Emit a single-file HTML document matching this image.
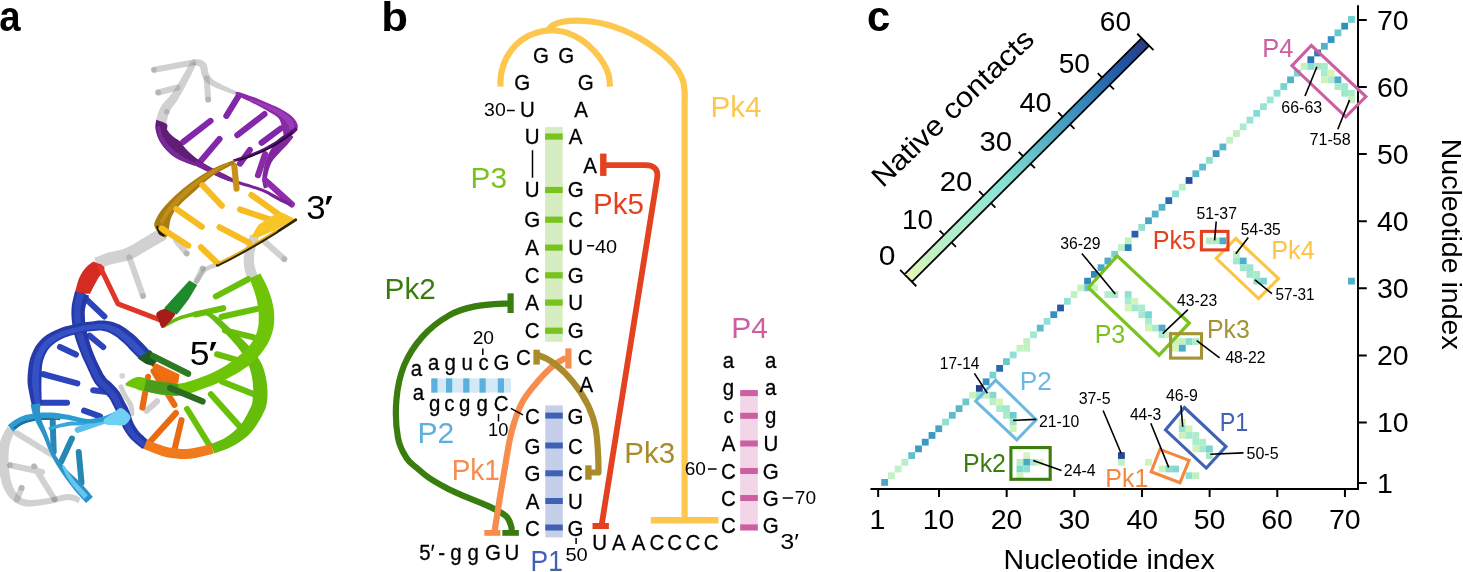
<!DOCTYPE html>
<html><head><meta charset="utf-8"><title>Figure</title>
<style>
html,body{margin:0;padding:0;background:#fff;}
svg{display:block;font-family:"Liberation Sans",sans-serif;}
</style></head><body>
<svg width="1463" height="572" viewBox="0 0 1463 572">
<defs><linearGradient id="cb" x1="0" y1="0" x2="1" y2="0"><stop offset="0.0000" stop-color="#e6f6b4"/><stop offset="0.0833" stop-color="#c6f2c0"/><stop offset="0.1667" stop-color="#b4eec8"/><stop offset="0.2500" stop-color="#a8ecd0"/><stop offset="0.3333" stop-color="#96e6d2"/><stop offset="0.4167" stop-color="#84dfd2"/><stop offset="0.5000" stop-color="#6cc8cc"/><stop offset="0.5833" stop-color="#55b0c4"/><stop offset="0.6667" stop-color="#449ac0"/><stop offset="0.7500" stop-color="#3384b8"/><stop offset="0.8333" stop-color="#2868ac"/><stop offset="0.9167" stop-color="#2050a0"/><stop offset="1.0000" stop-color="#2c3c84"/></linearGradient></defs>
<rect width="1463" height="572" fill="#fff"/>
<text transform="translate(-0.65 31.00) scale(0.9016 1)" font-size="42.5" fill="#000" font-weight="bold">a</text>
<text transform="translate(381.36 31.10) scale(1.0674 1)" font-size="41" fill="#000" font-weight="bold">b</text>
<text transform="translate(867.03 31.00) scale(0.9848 1)" font-size="42.5" fill="#000" font-weight="bold">c</text>
<g id="panel-a">
<g opacity="0.40"><path d="M166.4 123.2L166.8 121.4L167.3 119.0L168.0 116.3L168.7 113.7L169.6 111.5L170.8 109.4L172.4 107.1L174.4 104.5L176.6 101.6L178.7 98.3L180.8 94.6L183.0 90.6L185.1 86.6L187.1 82.6L189.0 79.0L190.8 75.5L192.5 72.0L194.1 68.7L195.4 66.0L196.3 64.1L190.5 61.1L189.5 63.1L188.1 65.8L186.5 68.9L184.7 72.3L182.8 75.6L180.8 79.1L178.5 82.9L176.2 86.7L173.8 90.3L171.7 93.5L169.6 96.2L167.3 98.7L165.1 101.1L162.8 103.8L160.8 106.7L159.2 110.0L158.0 113.3L157.1 116.4L156.5 118.8L156.0 120.4Z" fill="#8c8c8c" /></g>
<g opacity="0.40"><path d="M192.1 65.0L193.6 65.3L195.7 65.6L197.8 66.0L199.4 66.6L200.0 67.0L200.2 67.4L200.5 68.9L200.8 71.1L201.3 73.8L202.3 76.5L203.6 78.6L204.8 80.4L206.6 82.4L208.9 84.2L212.0 86.1L216.5 88.1L222.1 90.3L228.0 92.4L233.2 94.2L236.8 95.5L238.2 92.1L234.7 90.5L229.7 88.3L224.1 85.7L218.8 83.1L215.0 80.9L212.7 79.2L211.2 77.8L210.3 76.5L209.5 75.0L208.7 73.5L208.1 72.0L207.8 70.0L207.5 67.6L206.8 64.8L205.0 62.0L202.1 60.3L199.2 59.6L196.5 59.3L194.3 59.2L192.9 59.0Z" fill="#8c8c8c" /></g>
<g opacity="0.40"><path d="M154.1 69.8L193.4 62.5M158.2 92.5L177.5 87.5M208.2 99.5L206.6 78.4" fill="none" stroke="#8c8c8c" stroke-width="6.1" stroke-linecap="round" /></g>
<g opacity="0.40"><path d="M160.2 227.9L157.9 229.3L154.7 231.3L150.9 233.6L147.0 236.0L143.2 238.2L139.6 240.4L135.9 242.7L132.4 244.8L129.0 246.6L125.9 248.1L122.7 249.2L119.4 250.1L115.8 250.9L112.0 251.7L108.3 252.6L104.8 253.8L101.5 255.1L98.5 256.2L96.0 257.2L94.3 257.9L98.7 269.1L100.5 268.4L102.9 267.4L105.8 266.2L108.8 265.1L111.7 264.2L114.7 263.4L118.1 262.8L122.0 262.1L126.2 261.1L130.5 259.7L134.7 257.8L138.7 255.6L142.4 253.3L146.1 251.1L149.6 249.0L153.3 246.8L157.4 244.5L161.2 242.3L164.5 240.4L166.8 239.1Z" fill="#8c8c8c" /></g>
<g opacity="0.40"><path d="M250.2 234.6L249.4 236.8L248.2 240.0L246.8 243.7L245.5 247.7L244.6 251.4L244.1 254.7L243.8 257.9L243.7 261.0L243.9 263.9L244.1 266.7L244.6 269.7L245.4 272.7L246.2 275.3L246.8 277.3L247.3 278.8L257.7 275.2L257.2 273.7L256.4 271.8L255.6 269.6L254.9 267.3L254.5 265.3L254.2 263.1L254.1 260.7L254.0 258.3L254.1 255.8L254.4 253.2L255.0 250.2L256.0 246.6L257.1 243.0L258.1 239.7L258.8 237.4Z" fill="#8c8c8c" /></g>
<g opacity="0.40"><path d="M176.4 240.9L186.6 253.4M129.3 257.3L143 295.9M263.9 240.9L284.3 259.1M202.7 268.6L196.4 281.1" fill="none" stroke="#8c8c8c" stroke-width="6.1" stroke-linecap="round" /></g>
<g opacity="0.40"><path d="M219.1 264.1C216.8 265.0 209.3 266.7 205.5 269.5C201.7 272.3 197.9 279.2 196.4 281.1" fill="none" stroke="#8c8c8c" stroke-width="4.5" stroke-linecap="round" stroke-linejoin="round" /></g>
<g opacity="0.40"><path d="M7.4 426.8L6.4 428.6L4.8 431.1L3.0 434.4L1.2 438.3L-0.1 442.5L-0.9 447.0L-1.4 451.8L-1.6 456.8L-1.5 461.9L-1.2 466.8L-0.6 471.8L0.3 476.8L1.5 481.9L3.0 486.7L5.1 491.1L7.5 495.0L10.4 498.4L13.7 501.4L17.4 503.8L21.6 505.5L26.3 506.4L31.2 506.4L36.3 505.9L41.2 505.2L45.9 504.6L50.8 503.7L55.8 502.5L60.6 501.3L64.9 500.4L68.3 500.0L70.9 500.2L73.1 500.8L75.1 501.7L76.8 502.6L78.3 503.2L80.7 497.8L79.5 497.2L77.6 496.2L75.1 495.2L71.9 494.3L68.1 494.0L63.9 494.5L59.3 495.6L54.4 496.8L49.6 497.9L45.1 498.6L40.4 499.2L35.6 499.7L31.1 499.9L27.0 499.7L23.8 498.9L21.1 497.4L18.7 495.5L16.6 493.0L14.7 490.2L13.1 487.1L11.8 483.6L10.7 479.5L9.8 475.1L9.2 470.4L8.8 466.0L8.5 461.5L8.5 457.0L8.7 452.5L9.1 448.3L9.7 444.7L10.5 441.6L11.7 438.5L13.1 435.6L14.4 433.0L15.4 431.0Z" fill="#8c8c8c" /></g>
<g opacity="0.40"><path d="M10.2 465.2L42 472M34.1 466.4L54.5 499.3M21.6 488L17 499.3M17 433.4L52.3 455" fill="none" stroke="#8c8c8c" stroke-width="6.1" stroke-linecap="round" /></g>
<g opacity="0.40"><path d="M121.0 386.8C121.6 388.2 122.9 391.9 124.6 395.0C126.2 398.1 129.7 402.4 130.9 405.5C132.1 408.6 131.7 412.5 131.9 413.9" fill="none" stroke="#8c8c8c" stroke-width="5" stroke-linecap="round" stroke-linejoin="round" /><path d="M157.1 401.3L146.6 410.7" fill="none" stroke="#8c8c8c" stroke-width="6.1" stroke-linecap="round" /></g>
<g fill="#707070" opacity="0.28"><circle cx="154.1" cy="69.8" r="2.9"/><circle cx="158.2" cy="92.5" r="2.9"/><circle cx="208.2" cy="99.5" r="2.9"/><circle cx="186.6" cy="253.4" r="2.9"/><circle cx="143" cy="295.9" r="2.9"/><circle cx="284.3" cy="259.1" r="2.9"/><circle cx="10.2" cy="465.2" r="2.9"/><circle cx="34.1" cy="466.4" r="2.9"/><circle cx="21.6" cy="488" r="2.9"/><circle cx="54.5" cy="499.3" r="2.9"/><circle cx="166.8" cy="111.8" r="2.9"/><circle cx="202.7" cy="268.6" r="2.9"/><circle cx="122.2" cy="375.8" r="2.9"/></g>
<path d="M238.2 96.6L226.4 115.9M210.5 120.9L183.2 142M219.5 139.1L199.5 162.5M264.5 114.1L237.3 135.2M280.9 128.4L261.6 142.7M249.8 150L240 163.6" fill="none" stroke="#8226aa" stroke-width="6.1" stroke-linecap="round" />
<path d="M265 154.2L258 175.2" fill="none" stroke="#8a2aa6" stroke-width="6.1" stroke-linecap="round" />
<path d="M288.6 131.9L287.5 132.6L285.8 133.7L283.9 134.9L281.8 136.4L279.9 138.0L278.3 139.6L276.6 141.4L275.0 143.4L273.4 145.5L271.9 147.8L270.5 150.1L269.2 152.5L267.9 155.1L266.8 157.9L265.7 160.9L264.8 164.1L263.9 167.6L263.2 171.2L262.6 174.6L262.3 177.7L262.3 180.5L262.7 183.1L263.1 185.4L263.6 187.1L263.8 188.4L267.8 187.6L267.5 186.3L267.2 184.6L266.9 182.5L266.7 180.4L266.9 178.1L267.4 175.4L268.1 172.3L269.0 169.0L270.1 165.8L271.3 163.1L272.6 160.8L274.1 158.8L275.7 156.9L277.4 155.0L279.1 153.2L280.7 151.5L282.3 149.8L283.9 148.2L285.5 146.6L287.1 145.0L288.5 143.3L289.9 141.5L291.3 139.7L292.5 138.2L293.4 137.1Z" fill="#8327a0" />
<path d="M265.3 180.3L291.8 204.4" fill="none" stroke="#8e2cab" stroke-width="6.2" stroke-linecap="round" />
<path d="M156.2 119.7C157.9 120.4 164.8 122.2 166.7 123.9C168.6 125.7 166.3 128.1 167.4 130.2C168.5 132.3 170.9 134.6 173.0 136.5C175.1 138.4 177.9 139.4 180.0 141.4C182.1 143.4 183.5 146.1 185.6 148.4C187.7 150.7 190.0 153.1 192.6 155.3C195.2 157.5 197.9 159.6 200.9 161.6C203.9 163.6 207.0 165.2 210.7 167.2C214.4 169.2 219.3 171.5 223.3 173.5C227.3 175.5 232.6 178.2 234.5 179.1L228.9 181.2C227.5 180.6 224.0 179.3 220.5 177.7C217.0 176.1 211.6 173.3 207.9 171.4C204.2 169.5 201.6 167.9 198.1 166.5C194.6 165.1 190.7 164.4 187.0 163.0C183.3 161.6 179.3 160.3 175.8 158.1C172.3 155.9 168.8 152.8 166.0 149.8C163.2 146.8 160.8 143.5 159.0 140.0C157.2 136.5 156.0 132.2 155.5 128.8C155.0 125.4 156.1 121.2 156.2 119.7Z" fill="#5f1d76" />
<path d="M157.0 126.2L157.2 127.9L157.3 130.2L157.6 133.1L158.1 136.1L158.9 138.9L160.1 141.5L161.6 143.9L163.3 146.3L165.2 148.6L167.2 150.8L169.5 152.8L172.0 154.7L174.6 156.5L177.3 158.2L180.0 159.7L183.0 161.3L186.4 162.7L189.7 164.0L192.4 165.1L194.4 165.9L195.6 163.1L193.7 162.2L191.0 161.0L187.9 159.5L184.7 157.9L182.0 156.3L179.6 154.6L177.2 152.8L174.9 151.0L172.7 149.1L170.8 147.2L168.9 145.3L167.2 143.3L165.6 141.2L164.2 139.1L163.1 137.1L162.1 134.9L161.4 132.3L160.8 129.7L160.3 127.4L160.0 125.8Z" fill="#7a2a98" />
<path d="M193.8 165.1L195.7 166.0L198.4 167.3L201.6 168.8L204.8 170.4L207.9 171.8L210.7 173.2L213.5 174.5L216.4 175.9L219.3 177.2L222.2 178.4L225.0 179.6L227.9 180.7L230.8 181.7L233.6 182.7L236.5 183.7L239.3 184.6L242.2 185.4L245.0 186.2L247.8 187.0L250.6 187.8L253.3 188.7L256.1 189.6L258.9 190.5L261.7 191.5L264.4 192.7L267.1 194.1L269.9 195.7L272.7 197.4L275.5 199.0L278.2 200.5L280.9 202.0L283.8 203.3L286.4 204.6L288.7 205.6L290.3 206.4L291.7 203.2L290.1 202.5L287.9 201.4L285.3 200.1L282.5 198.8L279.8 197.5L277.2 196.0L274.4 194.5L271.5 192.9L268.5 191.3L265.6 189.9L262.7 188.7L259.9 187.7L257.1 186.8L254.3 185.9L251.4 185.0L248.6 184.1L245.8 183.3L243.0 182.5L240.3 181.6L237.5 180.7L234.8 179.6L232.0 178.5L229.3 177.3L226.6 176.1L223.8 174.8L221.1 173.4L218.4 171.9L215.7 170.4L212.9 168.9L210.1 167.4L207.1 165.8L203.9 164.1L200.8 162.5L198.1 161.1L196.2 160.1Z" fill="#7a2296" />
<path d="M237.7 92.0C241.1 92.6 251.8 96.4 258.2 98.9C264.6 101.4 271.1 104.2 276.4 106.8C281.7 109.4 286.6 112.1 290.0 114.8C293.4 117.5 295.6 120.4 296.8 122.7C298.1 125.0 297.9 126.7 297.5 128.4C297.1 130.1 296.5 131.3 294.5 133.0C292.5 134.7 287.6 139.5 285.5 138.6C283.4 137.7 283.1 130.7 282.0 127.3C280.9 123.9 280.9 120.8 278.6 118.2C276.3 115.6 272.6 113.9 268.4 111.4C264.2 108.9 258.7 106.1 253.6 103.4C248.5 100.8 240.3 97.4 237.7 95.5C235.0 93.6 234.3 91.4 237.7 92.0Z" fill="#8a2aa8" />
<path d="M249.6 100.4L252.1 101.5L255.6 103.1L259.7 104.9L263.7 106.8L267.3 108.6L270.3 110.2L273.2 111.8L276.0 113.4L278.4 115.0L280.6 116.6L282.5 118.1L284.1 119.6L285.5 121.1L286.6 122.4L287.4 123.6L288.0 124.5L288.5 125.6L288.9 126.9L289.2 128.2L289.5 129.2L293.5 128.8L293.6 127.9L293.7 126.5L293.8 124.7L293.5 122.6L292.6 120.4L291.2 118.6L289.6 117.0L287.8 115.4L285.7 113.9L283.4 112.4L280.9 111.0L278.1 109.6L275.1 108.2L272.0 106.8L268.7 105.4L265.0 103.9L260.8 102.3L256.6 100.8L252.9 99.5L250.4 98.6Z" fill="#9a3cb8" />
<path d="M295.9 127.3L294.2 128.5L291.9 130.1L289.2 131.9L286.3 133.9L283.5 135.8L280.8 137.6L278.1 139.5L275.2 141.4L272.3 143.3L269.2 145.1L265.8 146.9L262.2 148.7L258.5 150.4L254.8 152.0L251.1 153.5L247.2 154.9L243.0 156.3L238.9 157.6L235.4 158.7L232.9 159.5L233.7 162.1L236.2 161.4L239.8 160.4L243.9 159.2L248.2 157.9L252.3 156.5L256.0 155.0L259.9 153.4L263.7 151.8L267.4 150.0L270.8 148.3L274.1 146.5L277.3 144.7L280.3 142.9L283.2 141.1L285.9 139.2L288.7 137.2L291.4 135.0L294.0 132.8L296.2 131.0L297.7 129.7Z" fill="#55126e" />
<path d="M293.0 132.6C291.6 133.6 288.5 136.1 284.7 138.6C280.9 141.1 275.5 144.9 270.0 147.8C264.5 150.7 256.7 154.1 251.7 156.1C246.7 158.1 241.9 159.3 240.0 160.0" fill="none" stroke="#1a0322" stroke-width="1.2" stroke-linecap="round" stroke-linejoin="round" />
<path d="M234.3 165.9L236.6 188.6" fill="none" stroke="#c8921a" stroke-width="6.1" stroke-linecap="round" />
<path d="M234.5 160.0C231.6 161.1 223.2 163.8 217.3 166.6C211.4 169.4 205.6 172.5 199.1 176.8C192.6 181.1 184.7 187.2 178.6 192.5C172.5 197.8 166.7 203.6 162.7 208.6C158.7 213.6 155.8 219.1 154.6 222.5C153.4 225.9 155.4 227.9 155.6 229.0L155.6 229.0C157.0 230.3 161.8 236.1 163.9 237.0C166.0 237.9 166.8 237.6 168.0 234.5C169.2 231.4 169.1 223.3 170.9 218.6C172.7 213.9 174.7 210.8 178.6 206.3C182.5 201.8 188.8 196.6 194.5 191.5C200.2 186.4 206.0 180.4 212.7 175.8C219.4 171.2 230.9 165.8 234.5 163.8Z" fill="#a87c10" />
<path d="M227.5 162.6L224.5 164.2L220.1 166.3L215.0 168.9L209.8 171.7L205.0 174.5L200.7 177.4L196.4 180.5L192.3 183.7L188.3 187.0L184.5 190.3L180.8 193.7L177.3 197.3L174.0 200.8L171.0 204.3L168.2 207.6L165.8 211.0L163.7 214.4L161.9 217.6L160.5 220.2L159.5 222.1L162.5 223.9L163.7 222.1L165.3 219.5L167.2 216.6L169.4 213.5L171.8 210.4L174.4 207.3L177.4 203.9L180.6 200.5L184.0 197.0L187.5 193.7L191.1 190.3L195.0 187.0L198.9 183.7L202.9 180.5L207.0 177.5L211.5 174.4L216.4 171.4L221.3 168.5L225.5 166.1L228.5 164.4Z" fill="#bf8e18" />
<path d="M156.1 226.4L156.4 227.4L156.8 228.9L157.3 230.7L158.0 232.4L158.8 233.9L159.9 235.0L161.2 235.8L162.4 236.3L163.4 236.6L164.0 236.9L165.0 235.1L164.4 234.7L163.5 234.1L162.6 233.5L161.8 232.8L161.2 232.1L160.6 231.1L159.8 229.6L159.0 228.1L158.4 226.6L157.9 225.6Z" fill="#2a1c00" />
<path d="M202.5 185.2L221.8 205.7M176.4 209.1L201.8 226.8M161.6 228.4L188.2 245.5M200.9 247.3L217.3 263M251.4 195L280.9 215.9M240 209.5L280.9 223.2M219.5 227.3L249.1 242.7" fill="none" stroke="#f7bc22" stroke-width="6.1" stroke-linecap="round" />
<polygon points="282,212.5 295.7,219.3 276.4,229.5 258.2,237.5 251.4,236.4 258.2,225 271.8,215.9" fill="#f9c426" />
<path d="M295.7 219.8C292.5 221.9 283.4 227.8 276.4 232.2C269.4 236.6 261.2 241.6 253.6 246.0C246.0 250.4 236.9 255.3 230.9 258.5C224.9 261.7 219.6 264.1 217.3 265.2" fill="none" stroke="#2e2200" stroke-width="2.8" stroke-linecap="round" stroke-linejoin="round" />
<path d="M276.4 230.6C272.6 232.9 261.2 239.9 253.6 244.3C246.0 248.7 236.9 253.7 230.9 256.9C224.9 260.1 219.6 262.5 217.3 263.6" fill="none" stroke="#e8ae1c" stroke-width="1.8" stroke-linecap="round" stroke-linejoin="round" />
<path d="M93.5 261.5C95.3 262.6 103.8 264.8 104.5 267.8C105.2 270.8 99.9 275.2 97.5 279.5C95.1 283.8 91.2 291.4 90.0 293.8L74.6 293.8C75.4 291.1 77.4 282.1 79.3 277.7C81.2 273.3 83.6 270.2 86.0 267.5C88.4 264.8 92.2 262.5 93.5 261.5Z" fill="#d42c20" />
<path d="M99.8 266.4L118 303.9L160 319.8" fill="none" stroke="#e2352a" stroke-width="5" stroke-linejoin="round" stroke-linecap="round"/>
<path d="M82.7 295.9L104.3 316.4M89.5 335.7L103.2 347M60 347L75.9 354.5M43.4 374.2L77.3 383.4M39.8 402.7L67 402.7M93.2 390.2L111.4 392.5M84.1 410.7L100 416.4" fill="none" stroke="#2c44bc" stroke-width="6.1" stroke-linecap="round" />
<path d="M75.0 291.6L74.5 293.6L73.7 296.6L72.8 300.3L71.9 304.6L71.5 309.0L71.4 313.3L71.6 317.7L72.0 322.3L72.6 326.8L73.4 331.3L74.6 335.8L76.0 340.4L77.5 344.8L79.0 348.9L80.5 352.5L81.7 355.8L83.0 358.7L84.2 361.3L85.5 364.0L86.8 366.7L88.2 369.9L89.8 373.3L91.4 376.9L93.2 380.3L95.0 383.4L97.1 386.0L99.1 388.2L101.0 389.8L102.5 391.1L103.8 392.3L105.1 393.6L106.4 395.0L107.5 396.2L108.5 397.3L109.4 398.4L110.2 399.7L110.9 401.0L111.7 402.6L112.5 404.3L113.5 406.1L114.4 408.0L115.3 409.7L116.2 411.5L117.1 413.3L118.0 415.1L118.8 417.2L119.8 419.7L120.8 422.4L121.9 425.2L123.1 427.9L124.5 430.3L125.8 432.5L127.2 434.6L128.7 436.5L130.3 438.4L132.1 440.3L134.1 442.1L135.9 443.7L137.6 445.1L139.0 446.2L140.1 447.1L141.2 447.9L142.1 448.4L142.6 448.8L143.1 449.0L148.9 441.0L148.5 440.6L148.0 440.2L147.4 439.7L146.8 439.1L145.8 438.2L144.5 437.0L143.0 435.6L141.4 434.2L139.9 432.7L138.7 431.2L137.5 429.7L136.4 428.1L135.4 426.5L134.4 424.7L133.5 422.9L132.6 420.8L131.8 418.4L130.9 415.8L130.0 413.1L129.0 410.5L128.0 408.1L127.0 406.1L126.0 404.2L125.0 402.4L124.1 400.7L123.3 399.0L122.4 397.2L121.5 395.4L120.5 393.5L119.2 391.6L117.8 389.8L116.4 388.1L115.1 386.7L113.7 385.3L112.2 383.7L110.5 382.1L108.9 380.7L107.4 379.4L106.2 378.2L105.0 376.6L103.5 374.4L102.0 371.5L100.3 368.3L98.7 365.0L97.2 361.9L95.9 359.1L94.8 356.6L93.8 354.1L92.8 351.5L91.7 348.5L90.5 344.8L89.3 340.8L88.0 336.7L87.0 332.6L86.2 328.7L85.6 324.9L85.1 320.9L84.9 317.0L84.8 313.3L84.9 310.0L85.4 307.0L86.3 303.8L87.3 300.6L88.3 297.8L89.0 295.6Z" fill="#2638a6" /><path d="M77.4 292.3L76.8 294.4L76.0 297.4L75.0 301.1L74.2 305.1L73.8 309.2L73.7 313.3L73.9 317.6L74.2 322.0L74.8 326.5L75.6 330.8L76.7 335.2L78.0 339.7L79.5 344.1L81.0 348.2L82.4 351.9L83.6 355.1L84.8 357.9L86.0 360.5L87.2 363.1L88.6 365.9L90.0 369.1L91.6 372.5L93.3 376.0L95.0 379.3L96.7 382.2L98.6 384.6L100.5 386.6L102.2 388.1L103.8 389.5L105.2 390.8L106.5 392.2L107.8 393.5L109.0 394.8L110.1 396.0L111.1 397.3L111.9 398.6L112.8 400.1L113.6 401.7L114.4 403.4L115.3 405.2L116.2 407.0L117.1 408.7L118.0 410.5L118.9 412.4L119.9 414.3L120.8 416.6L121.7 419.1L122.7 421.8L123.7 424.5L124.9 427.1L126.1 429.4L127.4 431.5L128.8 433.5L130.2 435.3L131.7 437.2L133.4 439.0L135.3 440.7L137.1 442.3L138.8 443.7L140.1 444.8L141.3 445.7L142.3 446.5L143.0 447.0L143.6 447.4L144.1 447.7L147.0 443.6L146.5 443.3L146.0 442.9L145.3 442.4L144.6 441.7L143.5 440.8L142.2 439.7L140.6 438.3L139.0 436.7L137.3 435.2L135.9 433.6L134.6 431.9L133.4 430.2L132.2 428.4L131.1 426.5L130.1 424.5L129.1 422.3L128.2 419.8L127.3 417.2L126.3 414.5L125.4 412.0L124.4 409.8L123.4 407.8L122.5 406.0L121.5 404.2L120.6 402.5L119.8 400.8L118.9 399.1L118.1 397.3L117.1 395.6L116.0 393.8L114.7 392.2L113.5 390.7L112.2 389.4L110.8 388.0L109.4 386.5L107.8 385.0L106.2 383.6L104.6 382.2L103.1 380.7L101.7 378.9L100.2 376.4L98.5 373.3L96.9 370.0L95.3 366.6L93.8 363.5L92.5 360.7L91.3 358.1L90.2 355.6L89.1 352.9L88.0 349.8L86.7 346.1L85.4 342.1L84.0 337.8L82.9 333.6L82.0 329.6L81.3 325.5L80.8 321.3L80.5 317.2L80.4 313.3L80.5 309.7L81.0 306.2L81.8 302.7L82.8 299.4L83.7 296.5L84.4 294.3Z" fill="#3049bc" />
<path d="M150.7 351.8L150.4 351.5L150.0 351.2L149.6 350.7L149.1 350.2L148.4 349.4L147.5 348.5L146.5 347.3L145.2 346.0L143.9 344.5L142.4 343.1L140.9 341.5L139.1 339.7L137.2 337.8L135.1 335.8L132.8 333.8L130.4 331.9L127.9 330.0L125.2 328.0L122.4 326.2L119.5 324.6L116.6 323.4L113.7 322.3L110.8 321.5L107.7 320.9L104.6 320.5L101.4 320.4L98.2 320.6L95.2 321.0L92.2 321.4L89.4 321.8L86.6 322.1L83.7 322.5L80.8 323.0L77.9 323.5L74.8 324.1L71.7 324.9L68.4 325.7L64.9 326.6L61.3 327.8L57.8 329.2L54.3 330.8L50.8 332.6L47.2 334.6L43.8 337.1L40.6 339.9L37.8 343.2L35.4 346.6L33.4 350.3L31.7 354.2L30.2 358.3L29.1 362.7L28.4 367.3L27.9 371.8L27.6 376.1L27.5 379.9L27.6 383.4L28.0 386.7L28.5 389.6L29.0 392.2L29.5 394.6L30.0 397.2L30.5 399.8L31.1 402.2L31.5 404.2L31.8 405.6L41.8 404.4L41.7 402.9L41.6 400.9L41.6 398.5L41.5 395.9L41.5 393.4L41.4 390.8L41.4 388.2L41.4 385.7L41.4 383.0L41.5 380.1L41.6 376.6L41.7 372.6L41.8 368.7L42.2 365.0L42.8 361.7L43.7 358.7L44.8 355.7L46.2 352.9L47.7 350.3L49.4 348.1L51.4 346.0L53.7 344.0L56.4 342.1L59.3 340.3L62.2 338.8L65.0 337.5L68.0 336.4L71.0 335.5L74.1 334.7L77.2 333.9L80.0 333.1L82.6 332.5L85.3 332.0L87.9 331.6L90.6 331.2L93.4 330.9L96.2 330.7L98.8 330.6L101.2 330.6L103.4 330.9L105.5 331.4L107.6 332.1L109.7 333.0L111.7 334.0L113.7 335.2L115.8 336.5L117.9 338.1L120.0 339.9L122.2 341.8L124.2 343.6L126.0 345.3L127.7 347.1L129.4 349.0L131.1 350.8L132.8 352.5L134.3 354.1L135.8 355.4L137.1 356.7L138.3 357.8L139.4 358.8L140.3 359.5L141.0 360.2L141.6 360.6L142.0 360.9L142.3 361.2Z" fill="#273aaa" /><path d="M147.9 354.9L147.6 354.6L147.2 354.2L146.8 353.8L146.2 353.2L145.4 352.5L144.5 351.5L143.4 350.4L142.1 349.1L140.7 347.7L139.2 346.2L137.7 344.6L136.0 342.8L134.1 340.9L132.1 338.9L130.0 337.1L127.7 335.2L125.4 333.3L122.8 331.4L120.2 329.6L117.6 328.1L115.0 326.9L112.4 325.8L109.8 325.0L107.0 324.4L104.2 323.9L101.3 323.8L98.4 323.9L95.5 324.2L92.6 324.5L89.8 324.9L87.0 325.3L84.2 325.6L81.4 326.1L78.6 326.7L75.6 327.3L72.5 328.1L69.3 328.9L65.9 329.9L62.6 331.0L59.3 332.4L56.0 334.0L52.7 335.7L49.4 337.7L46.3 340.0L43.5 342.6L41.1 345.6L39.0 348.7L37.2 352.1L35.6 355.7L34.4 359.4L33.4 363.5L32.8 367.8L32.4 372.2L32.2 376.3L32.1 380.0L32.2 383.3L32.4 386.4L32.7 389.1L33.1 391.7L33.5 394.2L33.8 396.7L34.2 399.3L34.6 401.7L34.9 403.7L35.1 405.2L40.1 404.6L40.0 403.2L39.9 401.1L39.7 398.8L39.6 396.2L39.4 393.6L39.3 391.1L39.2 388.6L39.1 385.9L39.1 383.2L39.1 380.1L39.2 376.5L39.3 372.5L39.5 368.5L39.9 364.6L40.6 361.1L41.6 357.9L42.9 354.8L44.4 351.8L46.0 349.1L47.9 346.7L50.1 344.4L52.7 342.4L55.5 340.5L58.5 338.7L61.5 337.1L64.4 335.8L67.5 334.7L70.6 333.8L73.8 333.0L76.8 332.2L79.6 331.5L82.4 330.9L85.0 330.4L87.7 330.0L90.4 329.6L93.2 329.3L95.9 329.0L98.6 328.9L101.2 328.9L103.6 329.1L105.9 329.6L108.1 330.3L110.3 331.2L112.5 332.2L114.7 333.4L116.9 334.8L119.1 336.4L121.4 338.2L123.6 340.1L125.7 341.9L127.6 343.7L129.4 345.6L131.1 347.4L132.8 349.2L134.4 350.9L136.0 352.4L137.4 353.8L138.7 355.1L139.9 356.2L140.9 357.2L141.8 358.0L142.5 358.6L143.1 359.0L143.5 359.3L143.8 359.6Z" fill="#3551c6" />
<path d="M52.7 421.2L53.7 451.9M71.9 438.5L61.3 461.5M78.7 451.9L81.5 482.7" fill="none" stroke="#2686b4" stroke-width="6.0" stroke-linecap="round" />
<path d="M49.2 430.2L51.8 429.6L55.5 428.7L59.8 427.6L64.3 426.7L68.3 426.0L71.9 425.6L75.5 425.5L79.2 425.4L83.2 425.3L87.5 425.0L92.6 424.3L98.4 423.5L104.1 422.6L109.1 421.7L112.6 421.2L112.0 417.2L108.5 417.8L103.5 418.6L97.8 419.5L92.1 420.4L87.1 421.0L83.0 421.3L79.1 421.4L75.4 421.4L71.6 421.6L67.7 422.0L63.4 422.9L58.9 424.1L54.6 425.4L51.0 426.6L48.4 427.4Z" fill="#3aa6da" />
<path d="M77.7 429.8L114.2 417.3" fill="none" stroke="#5cc0ee" stroke-width="6.0" stroke-linecap="round" />
<path d="M13.2 431.8L14.5 430.6L16.1 429.1L18.0 427.3L20.0 425.7L21.8 424.5L23.6 423.5L25.5 422.7L27.4 422.0L29.6 421.4L32.2 420.7L35.1 420.1L38.4 419.5L41.8 419.0L45.3 418.6L48.8 418.4L52.4 418.4L56.1 418.6L59.9 418.9L63.8 419.3L67.6 419.8L71.4 420.4L75.3 421.3L79.3 422.2L83.3 423.0L87.1 423.5L90.7 423.5L94.1 423.3L97.3 422.8L100.3 422.3L103.3 421.6L106.5 420.8L109.8 419.8L112.9 418.7L115.5 417.8L117.3 417.2L115.1 411.6L113.3 412.4L110.8 413.5L108.0 414.7L105.0 415.9L102.1 416.8L99.3 417.5L96.4 418.1L93.6 418.6L90.6 418.9L87.5 418.9L84.1 418.5L80.4 417.7L76.5 416.7L72.4 415.7L68.4 414.8L64.5 414.2L60.5 413.6L56.6 413.0L52.7 412.6L48.8 412.4L45.0 412.4L41.2 412.6L37.5 412.9L34.0 413.4L30.8 413.9L27.9 414.4L25.3 415.1L22.9 415.9L20.6 416.8L18.2 417.9L15.6 419.4L13.2 421.1L10.9 422.8L9.1 424.3L7.8 425.2Z" fill="#2b9bd0" />
<path d="M14.7 429.5L16.0 428.7L17.7 427.4L19.8 426.1L22.0 424.8L24.4 423.7L27.1 422.8L30.0 422.0L33.2 421.2L36.6 420.6L40.1 420.2L44.1 420.0L48.7 419.9L53.2 420.0L57.2 420.1L60.0 420.2L60.0 418.6L57.2 418.5L53.3 418.3L48.7 418.1L44.0 418.1L39.9 418.2L36.3 418.6L32.8 419.0L29.5 419.7L26.4 420.4L23.6 421.3L20.9 422.5L18.4 423.9L16.3 425.4L14.5 426.6L13.3 427.5Z" fill="#1d6f9e" />
<path d="M116.2 410.7C117.9 409.6 118.8 408.1 120.4 408.1C122.0 408.1 123.9 409.3 125.6 410.7C127.3 412.1 129.9 414.8 130.4 416.5C130.9 418.2 129.8 419.8 128.8 421.2C127.8 422.6 126.3 424.2 124.6 424.9C122.8 425.6 121.4 425.5 118.3 425.4C115.2 425.3 108.4 425.5 106.0 424.5C103.6 423.5 103.3 421.1 104.0 419.5C104.7 417.9 108.0 416.5 110.0 415.0C112.0 413.5 114.5 411.8 116.2 410.7Z" fill="#6ed0f2" />
<path d="M30.5 404.4L30.9 406.1L31.4 408.5L32.1 411.5L33.0 414.9L34.2 418.3L35.7 421.6L37.4 425.0L39.3 428.5L41.2 432.0L42.9 435.5L44.4 439.1L46.0 442.9L47.5 446.9L49.1 450.8L50.9 454.7L52.9 458.5L55.0 462.2L57.2 465.9L59.5 469.5L61.8 473.0L64.2 476.6L66.7 480.1L69.3 483.4L71.7 486.6L74.1 489.7L76.7 492.7L79.5 495.8L82.2 498.7L84.5 501.2L86.1 503.0L92.9 497.0L91.4 495.2L89.2 492.6L86.7 489.5L84.0 486.4L81.3 483.3L78.4 480.5L75.4 477.8L72.3 475.1L69.4 472.3L66.6 469.4L63.9 466.3L61.3 463.1L58.8 459.8L56.5 456.4L54.5 452.9L52.7 449.3L51.2 445.4L49.8 441.5L48.5 437.6L47.1 433.7L45.6 429.9L44.0 426.2L42.5 422.7L41.2 419.3L40.4 416.3L40.0 413.5L40.0 410.6L40.2 407.8L40.4 405.4L40.5 403.6Z" fill="#2c93c8" />
<path d="M61.9 466.6L62.9 468.7L64.3 471.7L66.0 475.2L68.0 478.8L70.2 482.3L72.9 485.9L76.1 489.7L79.4 493.4L82.2 496.5L84.1 498.7L87.9 495.3L85.8 493.1L83.0 490.1L79.7 486.5L76.5 482.9L73.8 479.7L71.5 476.6L69.2 473.3L67.1 470.1L65.4 467.3L64.1 465.4Z" fill="#66c6f2" />
<path d="M175.9 413.1L149.4 442.5M181.5 420.1L174.5 449.5M153.6 371.2L174.5 404.8M148 376.8L142.4 407.6" fill="none" stroke="#e86a12" stroke-width="6.1" stroke-linecap="round" />
<polygon points="155.8,363.2 179.6,374.4 178.2,382.8 165.6,385.6 151.6,366" fill="#ee6e10" />
<path d="M248.2 279.3L215.9 296.4M256.8 308.9L221.6 316.8M195.5 314.5L223.2 308.2M253.4 337.3L225 330.5M217 354.3L240.9 361.1M222.1 381.7L254.3 394.3M210.9 394.3L240.3 427.1M187.1 409L209.5 445.3" fill="none" stroke="#68c008" stroke-width="6.1" stroke-linecap="round" />
<path d="M164.3 327.9L166.2 326.8L169.0 325.2L172.2 323.4L175.6 321.7L178.9 320.2L182.3 319.0L186.1 317.9L190.0 317.0L193.6 316.2L196.8 315.6L199.3 315.1L201.3 314.7L202.9 314.6L204.4 314.7L206.1 315.3L208.0 316.3L210.0 317.8L212.0 319.6L214.1 321.6L216.2 323.7L218.3 325.7L220.4 327.9L222.6 330.3L224.8 332.7L227.0 335.2L229.2 337.6L231.5 340.0L233.6 342.4L235.7 344.8L237.6 347.1L239.4 349.4L241.1 351.7L242.6 353.9L244.0 356.2L245.4 358.5L246.7 360.9L247.8 363.5L248.9 366.0L249.9 368.6L250.6 371.2L251.3 373.9L251.9 376.8L252.4 379.8L252.8 382.8L253.0 385.7L253.2 388.5L253.2 391.3L253.1 394.1L252.9 396.7L252.7 399.2L252.5 401.2L252.3 402.5L252.1 403.5L251.7 404.8L250.8 407.0L249.3 410.1L247.5 413.7L245.4 417.6L243.2 421.2L241.0 424.2L238.5 427.0L235.7 429.8L232.6 432.4L229.4 434.9L226.3 437.0L223.2 438.9L219.6 440.5L216.0 442.0L212.9 443.2L210.6 444.1L214.0 453.5L216.3 452.7L219.6 451.6L223.5 450.2L227.8 448.6L231.9 446.6L235.7 444.4L239.6 441.9L243.5 439.2L247.3 436.2L250.8 432.8L254.0 428.8L256.9 424.6L259.5 420.3L261.7 416.4L263.4 413.0L264.8 410.3L265.8 407.7L266.4 405.3L266.8 403.0L267.1 400.6L267.4 397.8L267.5 394.6L267.5 391.2L267.3 387.8L267.0 384.3L266.5 380.9L265.9 377.4L265.1 373.9L264.1 370.4L263.0 367.0L261.6 363.8L260.0 360.7L258.3 357.9L256.5 355.1L254.6 352.5L252.7 350.0L250.6 347.6L248.6 345.4L246.4 343.2L244.2 341.1L241.9 338.8L239.4 336.6L236.9 334.5L234.4 332.3L232.0 330.2L229.7 328.0L227.4 325.7L225.0 323.4L222.6 321.2L220.2 319.1L217.7 317.3L215.2 315.5L212.6 313.9L210.0 312.5L207.5 311.5L205.1 310.9L203.0 310.7L200.8 310.8L198.6 311.2L196.0 311.6L192.8 312.3L189.0 313.3L185.1 314.4L181.2 315.6L177.5 317.0L174.1 318.6L170.6 320.5L167.3 322.5L164.7 324.1L162.7 325.3Z" fill="#66bc0a" />
<path d="M143.5 448.7L146.5 449.9L150.8 451.7L155.9 453.8L161.3 455.7L166.5 457.2L171.3 458.1L176.1 458.6L180.8 458.9L185.6 458.9L190.4 458.7L195.6 458.0L201.0 456.8L206.2 455.6L210.5 454.4L213.5 453.6L211.1 444.0L208.0 444.7L203.7 445.9L198.8 447.1L193.9 448.1L189.4 448.7L185.3 448.9L181.1 448.9L177.0 448.6L172.8 448.1L168.7 447.4L164.2 446.3L159.3 444.6L154.3 442.7L150.0 441.0L146.9 439.9Z" fill="#f07a1c" />
<path d="M156.6 313.0C157.9 310.9 163.6 308.4 166.8 308.4C170.0 308.4 176.5 309.8 175.9 313.0C175.3 316.2 166.2 326.4 163.4 327.7C160.6 329.0 160.0 323.3 158.9 320.9C157.8 318.4 155.3 315.1 156.6 313.0Z" fill="#a51d1b" />
<polygon points="164,308.2 189.3,280.6 197.2,285 188.5,299.5 177,314.5" fill="#1f8a2c" />
<polygon points="137.6,358.3 150.2,349.9 158.6,359 153,366 146,363.9" fill="#1f5a1e" />
<path d="M153 356.2L188 373.7" fill="none" stroke="#2c7a22" stroke-width="6.4" stroke-linecap="round" />
<path d="M249.5 278.3L250.5 280.9L251.8 284.4L253.3 288.4L254.7 292.5L255.8 296.2L256.7 299.8L257.4 303.5L258.0 307.1L258.4 310.6L258.7 313.9L258.8 317.2L258.7 320.5L258.6 323.7L258.2 326.7L257.6 329.6L256.8 332.4L255.7 335.2L254.4 337.9L252.9 340.7L251.2 343.3L249.2 345.9L247.0 348.4L244.6 350.8L241.9 353.3L239.0 355.8L235.9 358.4L232.4 361.0L228.8 363.5L225.0 366.0L221.1 368.3L217.0 370.5L212.8 372.5L208.4 374.5L203.8 376.3L199.2 378.0L194.3 379.7L189.4 381.3L184.7 382.7L180.0 383.6L175.6 384.1L171.1 383.9L166.0 383.1L160.8 382.0L155.7 380.8L151.3 379.9L147.9 379.1L145.4 378.3L142.9 377.6L140.2 377.1L137.1 377.1L133.9 377.9L131.1 379.4L128.7 381.0L126.8 382.5L125.4 383.5L125.8 385.5L127.4 386.0L129.7 386.7L132.2 387.5L134.6 388.3L136.5 389.1L138.0 389.7L139.7 390.2L142.1 390.7L145.1 391.4L148.7 392.1L153.0 393.0L158.2 394.1L164.0 395.2L170.1 396.0L176.2 396.1L182.0 395.4L187.6 394.0L193.0 392.4L198.1 390.6L203.0 388.8L207.9 387.1L212.8 385.2L217.5 383.2L222.2 381.1L226.7 378.9L231.1 376.6L235.5 374.2L239.7 371.7L243.7 369.1L247.4 366.4L250.8 363.7L254.0 360.9L257.0 357.9L259.8 354.9L262.4 351.7L264.8 348.3L267.0 344.9L269.0 341.3L270.6 337.5L272.0 333.6L273.1 329.6L273.8 325.4L274.2 321.3L274.3 317.1L274.1 312.9L273.6 308.6L272.8 304.3L271.8 300.1L270.5 296.0L269.2 292.0L267.5 287.7L265.5 283.3L263.4 279.3L261.7 275.9L260.5 273.5Z" fill="#6ec406" />
<path d="M178.4 383.5L175.9 383.3L172.4 383.0L168.3 382.6L164.3 382.2L160.8 381.8L157.7 381.3L154.3 380.7L151.1 380.1L148.3 379.5L146.3 379.1L143.7 390.9L145.7 391.3L148.5 392.0L151.8 392.8L155.5 393.6L159.2 394.2L163.1 394.6L167.4 394.9L171.5 395.2L175.1 395.3L177.6 395.5Z" fill="#4c9c1c" />
<path d="M170.3 388L202.5 401.4" fill="none" stroke="#2c6c22" stroke-width="6.4" stroke-linecap="round" />
<text transform="translate(306.26 219.10) scale(1.0401 1)" font-size="33.5" fill="#000">3</text>
<text transform="translate(323.61 219.10) scale(1.5614 1)" font-size="33.5" fill="#000">′</text>
<text transform="translate(189.68 365.30) scale(1.0621 1)" font-size="33.5" fill="#000">5</text>
<text transform="translate(207.74 365.30) scale(1.5385 1)" font-size="33.5" fill="#000">′</text>
</g>
<g id="panel-b">
<rect x="545.1" y="127.1" width="17.6" height="214.7" fill="#d6edc1"/>
<rect x="545.1" y="133.5" width="17.6" height="6.2" fill="#78c31f"/>
<rect x="545.1" y="186.9" width="17.6" height="6.2" fill="#78c31f"/>
<rect x="545.1" y="216.6" width="17.6" height="6.2" fill="#78c31f"/>
<rect x="545.1" y="244.5" width="17.6" height="6.2" fill="#78c31f"/>
<rect x="545.1" y="272.2" width="17.6" height="6.2" fill="#78c31f"/>
<rect x="545.1" y="299.5" width="17.6" height="6.2" fill="#78c31f"/>
<rect x="545.1" y="327.6" width="17.6" height="6.2" fill="#78c31f"/>
<rect x="545.3" y="405.4" width="17.5" height="132" fill="#c6cfea"/>
<rect x="545.3" y="412.6" width="17.5" height="6" fill="#4062b5"/>
<rect x="545.3" y="442.5" width="17.5" height="6" fill="#4062b5"/>
<rect x="545.3" y="470.3" width="17.5" height="6" fill="#4062b5"/>
<rect x="545.3" y="498.0" width="17.5" height="6" fill="#4062b5"/>
<rect x="545.3" y="524.5" width="17.5" height="6" fill="#4062b5"/>
<rect x="431.2" y="378.4" width="79.7" height="14.2" fill="#d3e9f5"/>
<rect x="431.3" y="378.4" width="6.2" height="14.2" fill="#5bb0dc"/>
<rect x="446.0" y="378.4" width="6.2" height="14.2" fill="#5bb0dc"/>
<rect x="463.2" y="378.4" width="6.2" height="14.2" fill="#5bb0dc"/>
<rect x="479.5" y="378.4" width="6.2" height="14.2" fill="#5bb0dc"/>
<rect x="497.8" y="378.4" width="6.2" height="14.2" fill="#5bb0dc"/>
<rect x="740.2" y="389.9" width="17.6" height="140.9" fill="#f2d5e6"/>
<rect x="740.2" y="390.1" width="17.6" height="6" fill="#cc5f9f"/>
<rect x="740.2" y="412.8" width="17.6" height="6" fill="#cc5f9f"/>
<rect x="740.2" y="440.5" width="17.6" height="6" fill="#cc5f9f"/>
<rect x="740.2" y="468.0" width="17.6" height="6" fill="#cc5f9f"/>
<rect x="740.2" y="495.0" width="17.6" height="6" fill="#cc5f9f"/>
<rect x="740.2" y="524.4" width="17.6" height="6" fill="#cc5f9f"/>
<g fill="none" stroke-width="6.2" stroke-linecap="butt" stroke-linejoin="round">
<path d="M500.4 86.6C500.5 84.3 500.4 77.5 501.3 72.9C502.2 68.3 503.6 63.4 506.0 58.8C508.4 54.2 511.8 49.2 515.5 45.4C519.2 41.6 523.5 38.4 528.0 36.0C532.5 33.6 537.7 32.1 542.2 31.2C546.7 30.3 550.6 30.2 554.8 30.5C559.0 30.8 562.9 31.2 567.4 32.8C571.9 34.4 577.0 36.9 581.5 39.9C586.0 42.9 590.4 47.0 594.1 50.9C597.8 54.8 601.2 59.6 603.6 63.5C606.0 67.4 607.4 70.7 608.5 74.5C609.6 78.3 609.8 84.6 610.0 86.6" stroke="#fdc74e"/>
<path d="M548.5 29.7C549.3 28.9 550.8 26.2 553.2 24.9C555.6 23.6 558.8 22.5 562.7 21.8C566.6 21.1 571.8 20.7 576.8 20.7C581.8 20.7 587.4 21.1 592.6 21.8C597.9 22.5 603.1 23.4 608.3 24.9C613.5 26.3 618.8 28.3 624.0 30.5C629.2 32.7 634.5 35.3 639.8 38.3C645.0 41.3 650.8 45.2 655.5 48.6C660.2 52.0 664.4 55.3 668.1 58.8C671.8 62.3 675.0 66.1 677.5 69.8C680.0 73.5 681.8 77.1 683.0 80.8C684.2 84.5 684.3 87.8 684.6 91.8C684.9 95.8 684.6 102.8 684.6 105.0V520" stroke="#fdc74e"/>
<path d="M650.8 520.2H718.4" stroke="#fdc74e" stroke-width="6.5"/>
<path d="M603.3 153.6V175.9" stroke="#e3411f" stroke-width="6.4"/>
<path d="M603.3 165.1H645Q659.5 165.1 657 179L601.8 524" stroke="#e3411f" stroke-width="5.8"/>
<path d="M592.5 526H608.9" stroke="#e3411f" stroke-width="6"/>
<path d="M510.6 293.3V313" stroke="#3a7d0f" stroke-width="6.2"/>
<path d="M510.6 303.3C504.7 303.8 485.2 304.3 474.9 306.4C464.6 308.4 457.4 310.6 448.7 315.6C440.0 320.6 429.9 328.3 422.5 336.6C415.1 344.9 408.5 354.8 404.1 365.4C399.8 376.0 397.4 387.9 396.4 400.0C395.4 412.1 396.2 428.2 398.0 438.0C399.8 447.8 403.6 453.4 406.9 458.5C410.1 463.6 413.9 465.3 417.5 468.5C421.1 471.7 424.0 474.4 428.5 477.5C433.0 480.6 439.0 484.0 444.6 487.0C450.2 490.0 454.7 492.1 462.3 495.4C469.9 498.7 482.7 503.4 490.0 506.9C497.3 510.4 502.6 512.9 506.2 516.2C509.8 519.5 510.4 524.1 511.3 526.6C512.1 529.1 511.3 530.4 511.3 531.2" stroke="#3a7d0f"/>
<path d="M502.3 532.9H518.9" stroke="#3a7d0f" stroke-width="5.8"/>
<path d="M568.4 348.4V368.6" stroke="#f68d4e" stroke-width="6.2"/>
<path d="M566.0 357.8C563.9 359.1 558.3 361.5 553.6 365.4C548.9 369.3 542.9 375.4 537.9 381.2C532.9 387.0 527.3 393.5 523.5 400.0C519.7 406.5 517.3 413.2 515.0 420.0C512.7 426.8 511.2 432.7 509.5 441.0C507.8 449.3 506.2 460.2 504.5 470.0C502.8 479.8 501.1 489.8 499.5 500.0C497.9 510.2 495.4 525.8 494.6 531.0" stroke="#f68d4e"/>
<path d="M484.3 532.9H500.4" stroke="#f68d4e" stroke-width="5.8"/>
<path d="M536.6 349.7V364.6" stroke="#a98b2b" stroke-width="6.4"/>
<path d="M538 355C560 362 590 395 596 430C598 445 598.5 460 598.5 472.5H589" stroke="#a98b2b"/>
<path d="M588.4 465.3V479.7" stroke="#a98b2b" stroke-width="6.4"/>
</g>
<g font-size="21" fill="#000" stroke="#000" stroke-width="0.3">
<text transform="translate(532.2 143.8) scale(0.9 1)" font-size="22.8" text-anchor="middle">U</text>
<text transform="translate(575.7 143.8) scale(0.9 1)" font-size="22.8" text-anchor="middle">A</text>
<text transform="translate(532.2 197.2) scale(0.9 1)" font-size="22.8" text-anchor="middle">U</text>
<text transform="translate(575.7 197.2) scale(0.9 1)" font-size="22.8" text-anchor="middle">G</text>
<text transform="translate(532.2 226.9) scale(0.9 1)" font-size="22.8" text-anchor="middle">G</text>
<text transform="translate(575.7 226.9) scale(0.9 1)" font-size="22.8" text-anchor="middle">C</text>
<text transform="translate(532.2 254.8) scale(0.9 1)" font-size="22.8" text-anchor="middle">A</text>
<text transform="translate(575.7 254.8) scale(0.9 1)" font-size="22.8" text-anchor="middle">U</text>
<text transform="translate(532.2 282.5) scale(0.9 1)" font-size="22.8" text-anchor="middle">C</text>
<text transform="translate(575.7 282.5) scale(0.9 1)" font-size="22.8" text-anchor="middle">G</text>
<text transform="translate(532.2 309.8) scale(0.9 1)" font-size="22.8" text-anchor="middle">A</text>
<text transform="translate(575.7 309.8) scale(0.9 1)" font-size="22.8" text-anchor="middle">U</text>
<text transform="translate(532.2 337.9) scale(0.9 1)" font-size="22.8" text-anchor="middle">C</text>
<text transform="translate(575.7 337.9) scale(0.9 1)" font-size="22.8" text-anchor="middle">G</text>
<text transform="translate(590.2 172.6) scale(0.9 1)" font-size="22.8" text-anchor="middle">A</text>
<text transform="translate(527.4 117.4) scale(0.9 1)" font-size="22.8" text-anchor="middle">U</text>
<text transform="translate(581.2 117.4) scale(0.9 1)" font-size="22.8" text-anchor="middle">A</text>
<text transform="translate(522.2 89.8) scale(0.9 1)" font-size="22.8" text-anchor="middle">G</text>
<text transform="translate(585.6 89.8) scale(0.9 1)" font-size="22.8" text-anchor="middle">G</text>
<text transform="translate(541.0 63.1) scale(0.9 1)" font-size="22.8" text-anchor="middle">G</text>
<text transform="translate(566.2 63.1) scale(0.9 1)" font-size="22.8" text-anchor="middle">G</text>
<text transform="translate(523.5 364.8) scale(0.9 1)" font-size="22.8" text-anchor="middle">C</text>
<text transform="translate(585.1 364.8) scale(0.9 1)" font-size="22.8" text-anchor="middle">C</text>
<text transform="translate(586.4 391.5) scale(0.9 1)" font-size="22.8" text-anchor="middle">A</text>
<text transform="translate(532.5 423.6) scale(0.9 1)" font-size="22.8" text-anchor="middle">C</text>
<text transform="translate(575.5 423.6) scale(0.9 1)" font-size="22.8" text-anchor="middle">G</text>
<text transform="translate(532.5 453.5) scale(0.9 1)" font-size="22.8" text-anchor="middle">G</text>
<text transform="translate(575.5 453.5) scale(0.9 1)" font-size="22.8" text-anchor="middle">C</text>
<text transform="translate(532.5 481.3) scale(0.9 1)" font-size="22.8" text-anchor="middle">G</text>
<text transform="translate(575.5 481.3) scale(0.9 1)" font-size="22.8" text-anchor="middle">C</text>
<text transform="translate(532.5 509.0) scale(0.9 1)" font-size="22.8" text-anchor="middle">A</text>
<text transform="translate(575.5 509.0) scale(0.9 1)" font-size="22.8" text-anchor="middle">U</text>
<text transform="translate(532.5 535.5) scale(0.9 1)" font-size="22.8" text-anchor="middle">C</text>
<text transform="translate(575.5 535.5) scale(0.9 1)" font-size="22.8" text-anchor="middle">G</text>
<text transform="translate(416.4 376.4) scale(0.95 1)" font-size="21.5" text-anchor="middle">a</text>
<text transform="translate(433.7 370.2) scale(0.95 1)" font-size="21.5" text-anchor="middle">a</text>
<text transform="translate(450.1 370.2) scale(0.95 1)" font-size="21.5" text-anchor="middle">g</text>
<text transform="translate(467.3 370.2) scale(0.95 1)" font-size="21.5" text-anchor="middle">u</text>
<text transform="translate(483.7 370.2) scale(0.95 1)" font-size="21.5" text-anchor="middle">c</text>
<text transform="translate(501.5 370.2) scale(0.9 1)" font-size="22.8" text-anchor="middle">G</text>
<text transform="translate(418.5 399.9) scale(0.95 1)" font-size="21.5" text-anchor="middle">a</text>
<text transform="translate(434.6 411.0) scale(0.95 1)" font-size="21.5" text-anchor="middle">g</text>
<text transform="translate(449.3 411.0) scale(0.95 1)" font-size="21.5" text-anchor="middle">c</text>
<text transform="translate(464.6 411.0) scale(0.95 1)" font-size="21.5" text-anchor="middle">g</text>
<text transform="translate(482.2 411.0) scale(0.95 1)" font-size="21.5" text-anchor="middle">g</text>
<text transform="translate(501.1 411.0) scale(0.9 1)" font-size="22.8" text-anchor="middle">C</text>
<text transform="translate(425.0 560.0) scale(0.95 1)" font-size="21.5" text-anchor="middle">5</text>
<text transform="translate(432.6 560.0) scale(0.95 1)" font-size="21.5" text-anchor="middle">′</text>
<text transform="translate(441.6 560.0) scale(0.95 1)" font-size="21.5" text-anchor="middle">-</text>
<text transform="translate(456.0 560.0) scale(0.95 1)" font-size="21.5" text-anchor="middle">g</text>
<text transform="translate(473.3 560.0) scale(0.95 1)" font-size="21.5" text-anchor="middle">g</text>
<text transform="translate(492.9 560.0) scale(0.9 1)" font-size="22.8" text-anchor="middle">G</text>
<text transform="translate(512.0 560.0) scale(0.9 1)" font-size="22.8" text-anchor="middle">U</text>
<text transform="translate(599.7 550.4) scale(0.9 1)" font-size="22.8" text-anchor="middle">U</text>
<text transform="translate(618.8 550.4) scale(0.9 1)" font-size="22.8" text-anchor="middle">A</text>
<text transform="translate(638.5 550.4) scale(0.9 1)" font-size="22.8" text-anchor="middle">A</text>
<text transform="translate(656.8 550.4) scale(0.9 1)" font-size="22.8" text-anchor="middle">C</text>
<text transform="translate(674.7 550.4) scale(0.9 1)" font-size="22.8" text-anchor="middle">C</text>
<text transform="translate(692.8 550.4) scale(0.9 1)" font-size="22.8" text-anchor="middle">C</text>
<text transform="translate(711.1 550.4) scale(0.9 1)" font-size="22.8" text-anchor="middle">C</text>
<text transform="translate(728.5 368.2) scale(0.95 1)" font-size="21.5" text-anchor="middle">a</text>
<text transform="translate(770.8 368.2) scale(0.95 1)" font-size="21.5" text-anchor="middle">a</text>
<text transform="translate(728.5 394.9) scale(0.95 1)" font-size="21.5" text-anchor="middle">g</text>
<text transform="translate(770.8 394.9) scale(0.95 1)" font-size="21.5" text-anchor="middle">a</text>
<text transform="translate(728.5 422.7) scale(0.95 1)" font-size="21.5" text-anchor="middle">c</text>
<text transform="translate(770.8 422.7) scale(0.95 1)" font-size="21.5" text-anchor="middle">g</text>
<text transform="translate(728.5 451.0) scale(0.9 1)" font-size="22.8" text-anchor="middle">A</text>
<text transform="translate(770.8 451.0) scale(0.9 1)" font-size="22.8" text-anchor="middle">U</text>
<text transform="translate(728.5 478.5) scale(0.9 1)" font-size="22.8" text-anchor="middle">C</text>
<text transform="translate(770.8 478.5) scale(0.9 1)" font-size="22.8" text-anchor="middle">G</text>
<text transform="translate(728.5 505.5) scale(0.9 1)" font-size="22.8" text-anchor="middle">C</text>
<text transform="translate(770.8 505.5) scale(0.9 1)" font-size="22.8" text-anchor="middle">G</text>
<text transform="translate(728.5 533.0) scale(0.9 1)" font-size="22.8" text-anchor="middle">C</text>
<text transform="translate(770.8 533.0) scale(0.9 1)" font-size="22.8" text-anchor="middle">G</text>
</g>
<text transform="translate(484.12 116.30) scale(1.1153 1)" font-size="17.5" fill="#000">30</text>
<text transform="translate(595.00 253.20) scale(1.1374 1)" font-size="17.5" fill="#000">40</text>
<text transform="translate(472.64 343.60) scale(1.0983 1)" font-size="17.5" fill="#000">20</text>
<text transform="translate(488.03 436.30) scale(1.0457 1)" font-size="17.5" fill="#000">10</text>
<text transform="translate(565.40 561.40) scale(1.1484 1)" font-size="17.5" fill="#000">50</text>
<text transform="translate(684.74 474.90) scale(1.0927 1)" font-size="17.5" fill="#000">60</text>
<text transform="translate(794.84 504.20) scale(1.0927 1)" font-size="17.5" fill="#000">70</text>
<text transform="translate(780.30 548.60) scale(1.1413 1)" font-size="22" fill="#000">3′</text>
<path d="M506.9 110.5H514.8M587.1 245.8H594.2M708 468.9H716.6M782.7 498H793.1M482.8 348.4V354.9M498.5 414.1V421.4M510.9 408.3L522.9 414.9M576.1 538.1V543.9M532.5 150.2V177.7" stroke="#000" stroke-width="1.5" fill="none"/>
<text transform="translate(470.62 188.10) scale(1.0251 1)" font-size="29" fill="#78c31f">P3</text>
<text transform="translate(417.39 442.80) scale(1.0376 1)" font-size="29" fill="#5bb0dc">P2</text>
<text transform="translate(451.66 479.60) scale(0.9642 1)" font-size="29" fill="#f68d4e">Pk1</text>
<text transform="translate(384.62 298.90) scale(1.0258 1)" font-size="29" fill="#3a7d0f">Pk2</text>
<text transform="translate(624.34 463.00) scale(1.0172 1)" font-size="29" fill="#a98b2b">Pk3</text>
<text transform="translate(710.43 117.10) scale(1.0216 1)" font-size="29" fill="#fdc74e">Pk4</text>
<text transform="translate(593.04 213.50) scale(1.0172 1)" font-size="29" fill="#e3411f">Pk5</text>
<text transform="translate(731.20 338.40) scale(1.0345 1)" font-size="29" fill="#cc5f9f">P4</text>
<text transform="translate(530.59 570.90) scale(0.9101 1)" font-size="29" fill="#4062b5">P1</text>
</g>
<g id="panel-c">
<g>
<rect x="881.23" y="479.04" width="6.82" height="6.77" fill="#4aa8c0"/>
<rect x="888.00" y="472.33" width="6.82" height="6.77" fill="#c5f2c5"/>
<rect x="894.76" y="465.62" width="6.82" height="6.77" fill="#c0f0c8"/>
<rect x="901.53" y="458.91" width="6.82" height="6.77" fill="#b8eecc"/>
<rect x="908.29" y="452.20" width="6.82" height="6.77" fill="#60c0cc"/>
<rect x="915.06" y="445.49" width="6.82" height="6.77" fill="#3c9cc0"/>
<rect x="921.82" y="438.78" width="6.82" height="6.77" fill="#3c98c0"/>
<rect x="928.59" y="432.07" width="6.82" height="6.77" fill="#3c98c0"/>
<rect x="935.35" y="425.36" width="6.82" height="6.77" fill="#48a4c4"/>
<rect x="942.12" y="418.65" width="6.82" height="6.77" fill="#90e0d0"/>
<rect x="948.88" y="411.94" width="6.82" height="6.77" fill="#60bccc"/>
<rect x="955.65" y="405.23" width="6.82" height="6.77" fill="#58b8c8"/>
<rect x="962.41" y="398.52" width="6.82" height="6.77" fill="#70c8cc"/>
<rect x="969.18" y="391.81" width="6.82" height="6.77" fill="#c8f2c0"/>
<rect x="975.94" y="385.10" width="6.82" height="6.77" fill="#283c90"/>
<rect x="982.71" y="378.39" width="6.82" height="6.77" fill="#3a94bc"/>
<rect x="989.47" y="371.68" width="6.82" height="6.77" fill="#78d4d0"/>
<rect x="996.24" y="364.97" width="6.82" height="6.77" fill="#2868b0"/>
<rect x="1003.00" y="358.26" width="6.82" height="6.77" fill="#68c8cc"/>
<rect x="1009.77" y="351.55" width="6.82" height="6.77" fill="#90e0d4"/>
<rect x="1016.53" y="344.84" width="6.82" height="6.77" fill="#c0f2c4"/>
<rect x="1023.30" y="338.13" width="6.82" height="6.77" fill="#c0f0c4"/>
<rect x="1030.06" y="331.42" width="6.82" height="6.77" fill="#a0e8d4"/>
<rect x="1036.83" y="324.71" width="6.82" height="6.77" fill="#60bccc"/>
<rect x="1043.59" y="318.00" width="6.82" height="6.77" fill="#90e0d8"/>
<rect x="1050.36" y="311.29" width="6.82" height="6.77" fill="#3490c0"/>
<rect x="1057.12" y="304.58" width="6.82" height="6.77" fill="#2858a8"/>
<rect x="1063.89" y="297.88" width="6.82" height="6.77" fill="#90e0d4"/>
<rect x="1070.65" y="291.16" width="6.82" height="6.77" fill="#c0f0c4"/>
<rect x="1077.42" y="284.45" width="6.82" height="6.77" fill="#c4f2c0"/>
<rect x="1084.18" y="277.74" width="6.82" height="6.77" fill="#3088bc"/>
<rect x="1090.95" y="271.03" width="6.82" height="6.77" fill="#3088bc"/>
<rect x="1097.71" y="264.32" width="6.82" height="6.77" fill="#48a8c4"/>
<rect x="1104.48" y="257.61" width="6.82" height="6.77" fill="#4cacc4"/>
<rect x="1111.24" y="250.91" width="6.82" height="6.77" fill="#78d0d0"/>
<rect x="1118.01" y="244.19" width="6.82" height="6.77" fill="#c0f0c4"/>
<rect x="1124.77" y="237.48" width="6.82" height="6.77" fill="#c0f0c0"/>
<rect x="1131.54" y="230.77" width="6.82" height="6.77" fill="#2860b0"/>
<rect x="1138.30" y="224.06" width="6.82" height="6.77" fill="#90e0d4"/>
<rect x="1145.07" y="217.35" width="6.82" height="6.77" fill="#48a4c4"/>
<rect x="1151.83" y="210.65" width="6.82" height="6.77" fill="#58b4c8"/>
<rect x="1158.60" y="203.93" width="6.82" height="6.77" fill="#58b4c8"/>
<rect x="1165.36" y="197.22" width="6.82" height="6.77" fill="#2868b0"/>
<rect x="1172.13" y="190.52" width="6.82" height="6.77" fill="#88dcd4"/>
<rect x="1178.89" y="183.80" width="6.82" height="6.77" fill="#b8f0c8"/>
<rect x="1185.66" y="177.09" width="6.82" height="6.77" fill="#2050a4"/>
<rect x="1192.42" y="170.38" width="6.82" height="6.77" fill="#58b8cc"/>
<rect x="1199.19" y="163.67" width="6.82" height="6.77" fill="#60bccc"/>
<rect x="1205.95" y="156.97" width="6.82" height="6.77" fill="#90e0d0"/>
<rect x="1212.72" y="150.25" width="6.82" height="6.77" fill="#3c98c0"/>
<rect x="1219.48" y="143.54" width="6.82" height="6.77" fill="#58b8c8"/>
<rect x="1226.25" y="136.84" width="6.82" height="6.77" fill="#c4f2c4"/>
<rect x="1233.01" y="130.12" width="6.82" height="6.77" fill="#c0f0c0"/>
<rect x="1239.78" y="123.41" width="6.82" height="6.77" fill="#a8ecd0"/>
<rect x="1246.54" y="116.70" width="6.82" height="6.77" fill="#98e4d4"/>
<rect x="1253.31" y="109.99" width="6.82" height="6.77" fill="#80dcd4"/>
<rect x="1260.07" y="103.28" width="6.82" height="6.77" fill="#98e4d4"/>
<rect x="1266.84" y="96.58" width="6.82" height="6.77" fill="#a0e8d4"/>
<rect x="1273.60" y="89.86" width="6.82" height="6.77" fill="#90e0d4"/>
<rect x="1280.37" y="83.15" width="6.82" height="6.77" fill="#78d4d0"/>
<rect x="1287.13" y="76.44" width="6.82" height="6.77" fill="#50b4c8"/>
<rect x="1293.90" y="69.73" width="6.82" height="6.77" fill="#78d4d4"/>
<rect x="1300.66" y="63.02" width="6.82" height="6.77" fill="#c4f2bc"/>
<rect x="1307.43" y="56.31" width="6.82" height="6.77" fill="#2a78b4"/>
<rect x="1314.19" y="49.60" width="6.82" height="6.77" fill="#2878b8"/>
<rect x="1320.96" y="42.90" width="6.82" height="6.77" fill="#50b4c8"/>
<rect x="1327.72" y="36.18" width="6.82" height="6.77" fill="#3494c4"/>
<rect x="1334.49" y="29.47" width="6.82" height="6.77" fill="#68c8d0"/>
<rect x="1341.25" y="22.77" width="6.82" height="6.77" fill="#3090c0"/>
<rect x="1348.02" y="16.05" width="6.82" height="6.77" fill="#70d0d0"/>
<rect x="1023.30" y="344.84" width="6.82" height="6.77" fill="#c4f2c4"/>
<rect x="1084.18" y="284.45" width="6.82" height="6.77" fill="#70c8cc"/>
<rect x="1090.95" y="284.45" width="6.82" height="6.77" fill="#c8f2c0"/>
<rect x="1124.77" y="244.19" width="6.82" height="6.77" fill="#2a80b8"/>
<rect x="975.94" y="391.81" width="6.82" height="6.77" fill="#a0e8d0"/>
<rect x="982.71" y="391.81" width="6.82" height="6.77" fill="#c0f0c4"/>
<rect x="989.47" y="391.81" width="6.82" height="6.77" fill="#88d8cc"/>
<rect x="989.47" y="398.52" width="6.82" height="6.77" fill="#b8f0c8"/>
<rect x="996.24" y="398.52" width="6.82" height="6.77" fill="#d8f5b8"/>
<rect x="996.24" y="405.23" width="6.82" height="6.77" fill="#a8ecd0"/>
<rect x="1003.00" y="405.23" width="6.82" height="6.77" fill="#a0e8d0"/>
<rect x="1003.00" y="411.94" width="6.82" height="6.77" fill="#a8ecc8"/>
<rect x="1009.77" y="411.94" width="6.82" height="6.77" fill="#70ccc8"/>
<rect x="1009.77" y="418.65" width="6.82" height="6.77" fill="#98e4cc"/>
<rect x="1009.77" y="425.36" width="6.82" height="6.77" fill="#d0f4b8"/>
<rect x="1023.30" y="452.20" width="6.82" height="6.77" fill="#d4f5c0"/>
<rect x="1016.53" y="458.91" width="6.82" height="6.77" fill="#b8efc8"/>
<rect x="1023.30" y="458.91" width="6.82" height="6.77" fill="#4aa8c4"/>
<rect x="1030.06" y="458.91" width="6.82" height="6.77" fill="#a8ecd8"/>
<rect x="1036.83" y="458.91" width="6.82" height="6.77" fill="#d8f6c4"/>
<rect x="1016.53" y="465.62" width="6.82" height="6.77" fill="#80d8d0"/>
<rect x="1023.30" y="465.62" width="6.82" height="6.77" fill="#90e0d0"/>
<rect x="1016.53" y="472.33" width="6.82" height="6.77" fill="#ccf3bc"/>
<rect x="1118.01" y="452.20" width="6.82" height="6.77" fill="#1f4898"/>
<rect x="1118.01" y="458.91" width="6.82" height="6.77" fill="#c0f0c4"/>
<rect x="1145.07" y="458.91" width="6.82" height="6.77" fill="#d0f3bc"/>
<rect x="1158.60" y="465.62" width="6.82" height="6.77" fill="#ccf2bc"/>
<rect x="1165.36" y="465.62" width="6.82" height="6.77" fill="#90dccc"/>
<rect x="1172.13" y="465.62" width="6.82" height="6.77" fill="#80d8d0"/>
<rect x="1185.66" y="472.33" width="6.82" height="6.77" fill="#90e0d0"/>
<rect x="1192.42" y="472.33" width="6.82" height="6.77" fill="#c0f0c0"/>
<rect x="1178.89" y="418.65" width="6.82" height="6.77" fill="#ccf3bc"/>
<rect x="1178.89" y="425.36" width="6.82" height="6.77" fill="#98e4d0"/>
<rect x="1185.66" y="425.36" width="6.82" height="6.77" fill="#d0f4bc"/>
<rect x="1178.89" y="432.07" width="6.82" height="6.77" fill="#ccf2b8"/>
<rect x="1185.66" y="432.07" width="6.82" height="6.77" fill="#a8e8cc"/>
<rect x="1192.42" y="432.07" width="6.82" height="6.77" fill="#b0ecc8"/>
<rect x="1192.42" y="438.78" width="6.82" height="6.77" fill="#a8ecd0"/>
<rect x="1199.19" y="438.78" width="6.82" height="6.77" fill="#b0ecc8"/>
<rect x="1192.42" y="445.49" width="6.82" height="6.77" fill="#d0f4b8"/>
<rect x="1199.19" y="445.49" width="6.82" height="6.77" fill="#a8e8c8"/>
<rect x="1205.95" y="445.49" width="6.82" height="6.77" fill="#7cd4d0"/>
<rect x="1205.95" y="452.20" width="6.82" height="6.77" fill="#a8e8c8"/>
<rect x="1104.48" y="291.16" width="6.82" height="6.77" fill="#b0ecd0"/>
<rect x="1111.24" y="291.16" width="6.82" height="6.77" fill="#a8e8cc"/>
<rect x="1124.77" y="291.16" width="6.82" height="6.77" fill="#90e0d4"/>
<rect x="1124.77" y="297.88" width="6.82" height="6.77" fill="#a8ecd0"/>
<rect x="1131.54" y="297.88" width="6.82" height="6.77" fill="#d0f4c0"/>
<rect x="1124.77" y="304.58" width="6.82" height="6.77" fill="#d8f5b8"/>
<rect x="1131.54" y="304.58" width="6.82" height="6.77" fill="#a0e8d0"/>
<rect x="1138.30" y="304.58" width="6.82" height="6.77" fill="#a8ecd0"/>
<rect x="1138.30" y="311.29" width="6.82" height="6.77" fill="#a8e8d0"/>
<rect x="1145.07" y="311.29" width="6.82" height="6.77" fill="#78d4d4"/>
<rect x="1145.07" y="318.00" width="6.82" height="6.77" fill="#a8ecd0"/>
<rect x="1145.07" y="324.71" width="6.82" height="6.77" fill="#d0f4bc"/>
<rect x="1151.83" y="324.71" width="6.82" height="6.77" fill="#a8ecd0"/>
<rect x="1158.60" y="324.71" width="6.82" height="6.77" fill="#50acc8"/>
<rect x="1158.60" y="331.42" width="6.82" height="6.77" fill="#a8ecd0"/>
<rect x="1165.36" y="331.42" width="6.82" height="6.77" fill="#d0f4c0"/>
<rect x="1172.13" y="338.13" width="6.82" height="6.77" fill="#ccf3bc"/>
<rect x="1178.89" y="338.13" width="6.82" height="6.77" fill="#c4f0c0"/>
<rect x="1185.66" y="338.13" width="6.82" height="6.77" fill="#88dcd0"/>
<rect x="1192.42" y="338.13" width="6.82" height="6.77" fill="#b0ecc8"/>
<rect x="1172.13" y="344.84" width="6.82" height="6.77" fill="#d4f5c0"/>
<rect x="1178.89" y="344.84" width="6.82" height="6.77" fill="#48b0c8"/>
<rect x="1205.95" y="237.48" width="6.82" height="6.77" fill="#b4ecc0"/>
<rect x="1212.72" y="237.48" width="6.82" height="6.77" fill="#b0ecc4"/>
<rect x="1219.48" y="237.48" width="6.82" height="6.77" fill="#48acc8"/>
<rect x="1233.01" y="250.91" width="6.82" height="6.77" fill="#c0f0c0"/>
<rect x="1233.01" y="257.61" width="6.82" height="6.77" fill="#a0e8cc"/>
<rect x="1239.78" y="257.61" width="6.82" height="6.77" fill="#4cb0c8"/>
<rect x="1239.78" y="264.32" width="6.82" height="6.77" fill="#a0e8cc"/>
<rect x="1246.54" y="264.32" width="6.82" height="6.77" fill="#98e4d0"/>
<rect x="1246.54" y="271.03" width="6.82" height="6.77" fill="#a0e8cc"/>
<rect x="1253.31" y="271.03" width="6.82" height="6.77" fill="#a8ecc8"/>
<rect x="1253.31" y="277.74" width="6.82" height="6.77" fill="#90e0cc"/>
<rect x="1260.07" y="277.74" width="6.82" height="6.77" fill="#78d4cc"/>
<rect x="1307.43" y="63.02" width="6.82" height="6.77" fill="#88dcd0"/>
<rect x="1314.19" y="63.02" width="6.82" height="6.77" fill="#a8e8c8"/>
<rect x="1320.96" y="63.02" width="6.82" height="6.77" fill="#a8ecd0"/>
<rect x="1320.96" y="69.73" width="6.82" height="6.77" fill="#a8ecd0"/>
<rect x="1327.72" y="69.73" width="6.82" height="6.77" fill="#d4f4b8"/>
<rect x="1320.96" y="76.44" width="6.82" height="6.77" fill="#d0f4b8"/>
<rect x="1327.72" y="76.44" width="6.82" height="6.77" fill="#b0ecc8"/>
<rect x="1334.49" y="76.44" width="6.82" height="6.77" fill="#50acc8"/>
<rect x="1334.49" y="83.15" width="6.82" height="6.77" fill="#a8ecc8"/>
<rect x="1341.25" y="83.15" width="6.82" height="6.77" fill="#a0e8d0"/>
<rect x="1341.25" y="89.86" width="6.82" height="6.77" fill="#a0e8cc"/>
<rect x="1348.02" y="89.86" width="6.82" height="6.77" fill="#a8ecc8"/>
<rect x="1348.02" y="96.58" width="6.82" height="6.77" fill="#c0f0c0"/>
<rect x="1348.02" y="277.74" width="6.82" height="6.77" fill="#50b0c8"/>
</g>
<g stroke="#000" stroke-width="2" fill="none">
<path d="M870.5 488.9H1359M1358 5.2V489.9"/>
<path d="M878.15 489V497M1358 482.90H1366.8M939.03 489V497M1358 422.51H1366.8M1006.68 489V497M1358 355.41H1366.8M1074.34 489V497M1358 288.31H1366.8M1141.98 489V497M1358 221.21H1366.8M1209.63 489V497M1358 154.11H1366.8M1277.29 489V497M1358 87.01H1366.8M1344.93 489V497M1358 19.91H1366.8"/>
</g>
<text transform="translate(869.51 529.20) scale(1.0000 1)" font-size="28.5" fill="#000">1</text>
<text transform="translate(1377.00 492.80)  scale(1.0000 1)" font-size="28.5" fill="#000" text-anchor="start">1</text>
<text transform="translate(922.65 529.20) scale(1.0000 1)" font-size="28.5" fill="#000">10</text>
<text transform="translate(1377.00 432.41)  scale(1.0000 1)" font-size="28.5" fill="#000" text-anchor="start">10</text>
<text transform="translate(990.65 529.20) scale(1.0000 1)" font-size="28.5" fill="#000">20</text>
<text transform="translate(1377.00 365.31)  scale(1.0000 1)" font-size="28.5" fill="#000" text-anchor="start">20</text>
<text transform="translate(1058.45 529.20) scale(1.0000 1)" font-size="28.5" fill="#000">30</text>
<text transform="translate(1377.00 298.21)  scale(1.0000 1)" font-size="28.5" fill="#000" text-anchor="start">30</text>
<text transform="translate(1126.38 529.20) scale(1.0000 1)" font-size="28.5" fill="#000">40</text>
<text transform="translate(1377.00 231.11)  scale(1.0000 1)" font-size="28.5" fill="#000" text-anchor="start">40</text>
<text transform="translate(1193.75 529.20) scale(1.0000 1)" font-size="28.5" fill="#000">50</text>
<text transform="translate(1377.00 164.01)  scale(1.0000 1)" font-size="28.5" fill="#000" text-anchor="start">50</text>
<text transform="translate(1261.25 529.20) scale(1.0000 1)" font-size="28.5" fill="#000">60</text>
<text transform="translate(1377.00 96.91)  scale(1.0000 1)" font-size="28.5" fill="#000" text-anchor="start">60</text>
<text transform="translate(1328.90 529.20) scale(1.0000 1)" font-size="28.5" fill="#000">70</text>
<text transform="translate(1377.00 29.81)  scale(1.0000 1)" font-size="28.5" fill="#000" text-anchor="start">70</text>
<text transform="translate(1003.51 568.80) scale(1.0208 1)" font-size="28" fill="#000">Nucleotide index</text>
<text transform="translate(1441.7 138.72) rotate(90) scale(1.0194 1)" font-size="28">Nucleotide index</text>
<polygon points="1311.3,45.4 1365.9,96.5 1345.8,116.8 1292,65.8" fill="none" stroke="#cc5f9f" stroke-width="3.1" stroke-linejoin="miter"/>
<polygon points="1235.8,238.5 1278.5,278.5 1258.5,298.7 1216.2,258.3" fill="none" stroke="#fdc345" stroke-width="3.1" stroke-linejoin="miter"/>
<polygon points="1117.2,255.9 1189.3,323 1159.1,355.2 1088.4,287.7" fill="none" stroke="#7ac31e" stroke-width="3.3" stroke-linejoin="miter"/>
<polygon points="995.6,380.1 1036.2,419.7 1016.8,439.9 975.6,401.2" fill="none" stroke="#6cb8e0" stroke-width="3.0" stroke-linejoin="miter"/>
<polygon points="1184.4,407.5 1226,446.5 1206.3,468.1 1165.5,429.9" fill="none" stroke="#4062b5" stroke-width="3.1" stroke-linejoin="miter"/>
<polygon points="1159.9,449.4 1189.1,460.3 1180,482.7 1151.2,471.8" fill="none" stroke="#f58840" stroke-width="3.1" stroke-linejoin="miter"/>
<rect x="1201.4" y="231.4" width="26.6" height="18.5" fill="none" stroke="#e2401f" stroke-width="3.1"/>
<rect x="1170.6" y="333.7" width="30.9" height="24.4" fill="none" stroke="#a39332" stroke-width="3.1"/>
<rect x="1010.9" y="447.6" width="39.3" height="31.7" fill="none" stroke="#3b7d0f" stroke-width="3.1"/>
<path d="M974.4 373.4L987.4 393.3M1013.2 420.4L1036.2 419.4M1033.2 460.6L1061.5 470.4M1103.1 410.5L1121.1 453.3M1150.8 423.2L1168.7 467.4M1180.9 405.4L1182.7 426.7M1210.3 454.3L1243.5 452.9M1081.8 253.4L1115.3 293.9M1187.9 309.7L1162.7 333.7M1196.8 340.6L1219.6 357.9M1216.2 221.5L1214.6 240.4M1248.3 237.5L1235.8 253.8M1255 279.8L1271.9 293.7M1316.9 66.7L1305 96M1349.5 100.1L1337.8 129.2" stroke="#000" stroke-width="1.6" fill="none"/>
<text transform="translate(939.84 368.80) scale(0.9694 1)" font-size="16" fill="#000">17-14</text>
<text transform="translate(1038.91 426.80) scale(0.9843 1)" font-size="16" fill="#000">21-10</text>
<text transform="translate(1063.80 476.00) scale(0.9961 1)" font-size="16" fill="#000">24-4</text>
<text transform="translate(1078.66 404.30) scale(0.9961 1)" font-size="16" fill="#000">37-5</text>
<text transform="translate(1129.89 419.80) scale(0.9794 1)" font-size="16" fill="#000">44-3</text>
<text transform="translate(1165.98 401.00) scale(0.9948 1)" font-size="16" fill="#000">46-9</text>
<text transform="translate(1246.46 459.20) scale(1.0026 1)" font-size="16" fill="#000">50-5</text>
<text transform="translate(1060.17 248.70) scale(0.9868 1)" font-size="16" fill="#000">36-29</text>
<text transform="translate(1177.09 305.90) scale(0.9820 1)" font-size="16" fill="#000">43-23</text>
<text transform="translate(1225.39 362.80) scale(0.9809 1)" font-size="16" fill="#000">48-22</text>
<text transform="translate(1196.47 218.70) scale(0.9888 1)" font-size="16" fill="#000">51-37</text>
<text transform="translate(1240.77 234.50) scale(0.9798 1)" font-size="16" fill="#000">54-35</text>
<text transform="translate(1275.39 299.90) scale(0.9565 1)" font-size="16" fill="#000">57-31</text>
<text transform="translate(1281.30 113.10) scale(0.9990 1)" font-size="16" fill="#000">66-63</text>
<text transform="translate(1309.49 144.50) scale(1.0091 1)" font-size="16" fill="#000">71-58</text>
<text transform="translate(1262.36 56.80) scale(0.9806 1)" font-size="26" fill="#cc5f9f">P4</text>
<text transform="translate(1152.68 248.80) scale(0.9687 1)" font-size="26" fill="#e2401f">Pk5</text>
<text transform="translate(1271.29 258.70) scale(0.9675 1)" font-size="26" fill="#fdc345">Pk4</text>
<text transform="translate(1094.70 343.20) scale(0.9615 1)" font-size="26" fill="#7ac31e">P3</text>
<text transform="translate(1206.91 338.00) scale(0.9567 1)" font-size="26" fill="#a39332">Pk3</text>
<text transform="translate(1019.70 389.70) scale(1.0092 1)" font-size="26" fill="#6cb8e0">P2</text>
<text transform="translate(963.00 472.20) scale(0.9603 1)" font-size="26" fill="#3b7d0f">Pk2</text>
<text transform="translate(1105.30 486.80) scale(0.9597 1)" font-size="26" fill="#f58840">Pk1</text>
<text transform="translate(1219.63 431.10) scale(0.8992 1)" font-size="26" fill="#4062b5">P1</text>
<g transform="translate(908.2 278.1) rotate(-44.879)">
<rect x="0" y="-5.3" width="334.75" height="10.6" fill="url(#cb)"/>
<path d="M0 -5.3H334.75M0 5.3H334.75M0.00 -11.5V11.5M55.79 -11.5V-5.3M55.79 5.3V11.5M111.58 -11.5V-5.3M111.58 5.3V11.5M167.37 -11.5V-5.3M167.37 5.3V11.5M223.16 -11.5V-5.3M223.16 5.3V11.5M278.95 -11.5V-5.3M278.95 5.3V11.5M334.75 -11.5V11.5" stroke="#000" stroke-width="1.8" fill="none"/>
</g>
<text transform="translate(878.80 265.40) scale(1.0526 1)" font-size="28.5" fill="#000">0</text>
<text transform="translate(901.91 228.50) scale(0.9789 1)" font-size="28.5" fill="#000">10</text>
<text transform="translate(939.63 191.40) scale(1.0304 1)" font-size="28.5" fill="#000">20</text>
<text transform="translate(979.43 151.10) scale(1.0306 1)" font-size="28.5" fill="#000">30</text>
<text transform="translate(1019.52 112.00) scale(1.0144 1)" font-size="28.5" fill="#000">40</text>
<text transform="translate(1058.67 73.10) scale(0.9899 1)" font-size="28.5" fill="#000">50</text>
<text transform="translate(1099.80 31.40) scale(0.9859 1)" font-size="28.5" fill="#000">60</text>
<text transform="translate(884.5 186.8) rotate(-43.9) translate(-2.49 0) scale(1.0913 1)" font-size="28.5">Native contacts</text>
</g>
</svg>
</body></html>
